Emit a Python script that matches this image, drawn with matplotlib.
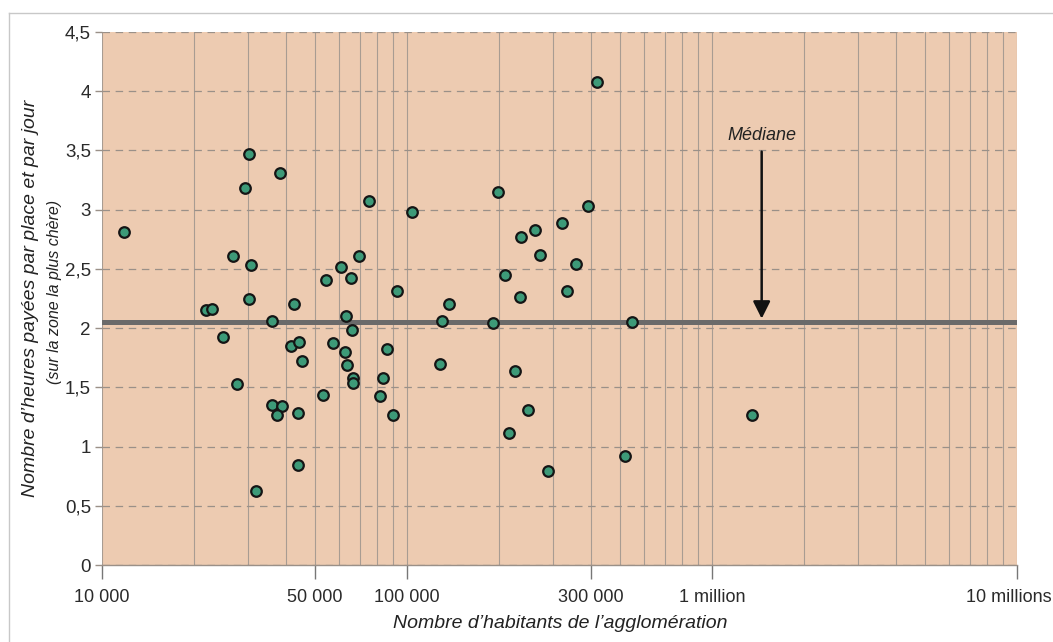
import numpy as np
import matplotlib.pyplot as plt
from matplotlib.lines import Line2D
from matplotlib.ticker import FixedLocator, LogLocator, NullFormatter
from matplotlib.transforms import ScaledTranslation

plt.rcParams['font.family'] = ['Liberation Sans', 'DejaVu Sans']

# agglomeration size (inhabitants) and paid hours per space per day
population = [11800, 30400, 29400, 38400, 75200, 26950, 30700, 69600, 60900, 65400,
              54100, 93000, 30400, 42700, 22000, 22950, 63100, 36100, 24870, 66200,
              41550, 44360, 45270, 57340, 62480, 63580, 66370, 66370, 86000, 83600,
              81740, 89950, 52900, 27770, 36090, 38820, 37480, 43800, 43800, 31990,
              104100, 136960, 130200, 199200, 209600, 236500, 263500, 272900, 322300, 358100,
              333800, 392200, 420700, 234200, 191200, 546800, 128600, 226500, 248600, 216000,
              290600, 519700, 1356000]
hours = [2.81, 3.47, 3.18, 3.31, 3.07, 2.61, 2.535, 2.61, 2.515, 2.42,
         2.41, 2.315, 2.25, 2.205, 2.155, 2.165, 2.105, 2.06, 1.925, 1.98,
         1.85, 1.885, 1.725, 1.875, 1.795, 1.685, 1.575, 1.54, 1.82, 1.575,
         1.425, 1.265, 1.435, 1.53, 1.355, 1.345, 1.265, 1.285, 0.845, 0.625,
         2.98, 2.205, 2.06, 3.15, 2.445, 2.77, 2.825, 2.615, 2.885, 2.54,
         2.315, 3.03, 4.075, 2.265, 2.04, 2.05, 1.695, 1.635, 1.31, 1.115,
         0.79, 0.92, 1.265]

median_hours = 2.055

# the "300 000" label sits on the 400 000 line in the original chart
x_tick_values = [1e4, 5e4, 1e5, 4e5, 1e6, 1e7]
x_tick_labels = ['10 000', '50 000', '100 000', '300 000', '1 million', '10 millions']
y_tick_values = [0, 0.5, 1, 1.5, 2, 2.5, 3, 3.5, 4, 4.5]
y_tick_labels = ['0', '0,5', '1', '1,5', '2', '2,5', '3', '3,5', '4', '4,5']

fig = plt.figure(figsize=(10.53, 6.42), dpi=100)
ax = fig.add_axes([102 / 1053, 1 - 565 / 642, 915 / 1053, 533 / 642])
ax.set_facecolor('#edcbb1')

ax.set_xscale('log')
ax.set_xlim(1e4, 1e7)
ax.set_ylim(0, 4.5)

ax.xaxis.set_major_locator(FixedLocator(x_tick_values))
ax.set_xticklabels(x_tick_labels)
ax.xaxis.set_minor_locator(LogLocator(base=10, subs=np.arange(1, 10), numticks=100))
ax.xaxis.set_minor_formatter(NullFormatter())
ax.set_yticks(y_tick_values)
ax.set_yticklabels(y_tick_labels)

ax.tick_params(axis='x', which='major', length=10, width=1, color='#777777',
               labelsize=13, labelcolor='#2a2a2a', pad=7)
ax.tick_params(axis='x', which='minor', length=0)
ax.tick_params(axis='y', length=5, width=1, color='#9a9088',
               labelsize=13.5, labelcolor='#2a2a2a', pad=3)

# last label is pulled left a little so it stays inside the picture
last = ax.get_xticklabels()[-1]
last.set_transform(last.get_transform() + ScaledTranslation(-8 / 100, 0, fig.dpi_scale_trans))

ax.grid(axis='x', which='both', color='#a89c92', lw=0.8)
ax.grid(axis='y', which='major', color='#9a9088', lw=0.9, ls=(0, (6, 4.5)))
ax.set_axisbelow(True)

for side in ['left', 'top', 'right']:
    ax.spines[side].set_visible(False)
ax.spines['bottom'].set_color('#9a9088')
ax.spines['bottom'].set_linewidth(1)

ax.axhline(median_hours, color='#6a6a6a', lw=3.6, zorder=2)

ax.scatter(population, hours, s=58, color='#3d9a78', edgecolor='#151515',
           linewidth=1.6, zorder=3, clip_on=False)

# median label and arrow
ax.annotate('', xy=(1.455e6, 2.08), xytext=(1.455e6, 3.49),
            arrowprops=dict(arrowstyle='-|>', color='#111111', lw=1.8,
                            mutation_scale=26, shrinkA=0, shrinkB=0), zorder=4)
ax.text(1.455e6, 3.63, 'Médiane', ha='center', va='center', fontsize=13,
        style='italic', color='#222222')

fig.text(31 / 1053, 1 - 298 / 642, "Nombre d\u2019heures payées par place et par jour",
         rotation=90, ha='center', va='center', fontsize=14, style='italic', color='#222222')
fig.text(55 / 1053, 1 - 292 / 642, '(sur la zone la plus chère)',
         rotation=90, ha='center', va='center', fontsize=11.5, style='italic', color='#222222')
fig.text(560 / 1053, 1 - 623 / 642, "Nombre d\u2019habitants de l\u2019agglomération",
         ha='center', va='center', fontsize=14, style='italic', color='#222222')

# thin frame around the chart (only top and left edges are visible)
fig.add_artist(Line2D([9 / 1053, 1], [1 - 13 / 642, 1 - 13 / 642],
                      transform=fig.transFigure, color='#c8c8c8', lw=1))
fig.add_artist(Line2D([9 / 1053, 9 / 1053], [0, 1 - 13 / 642],
                      transform=fig.transFigure, color='#c8c8c8', lw=1))

fig.savefig('out.png', dpi=100)
